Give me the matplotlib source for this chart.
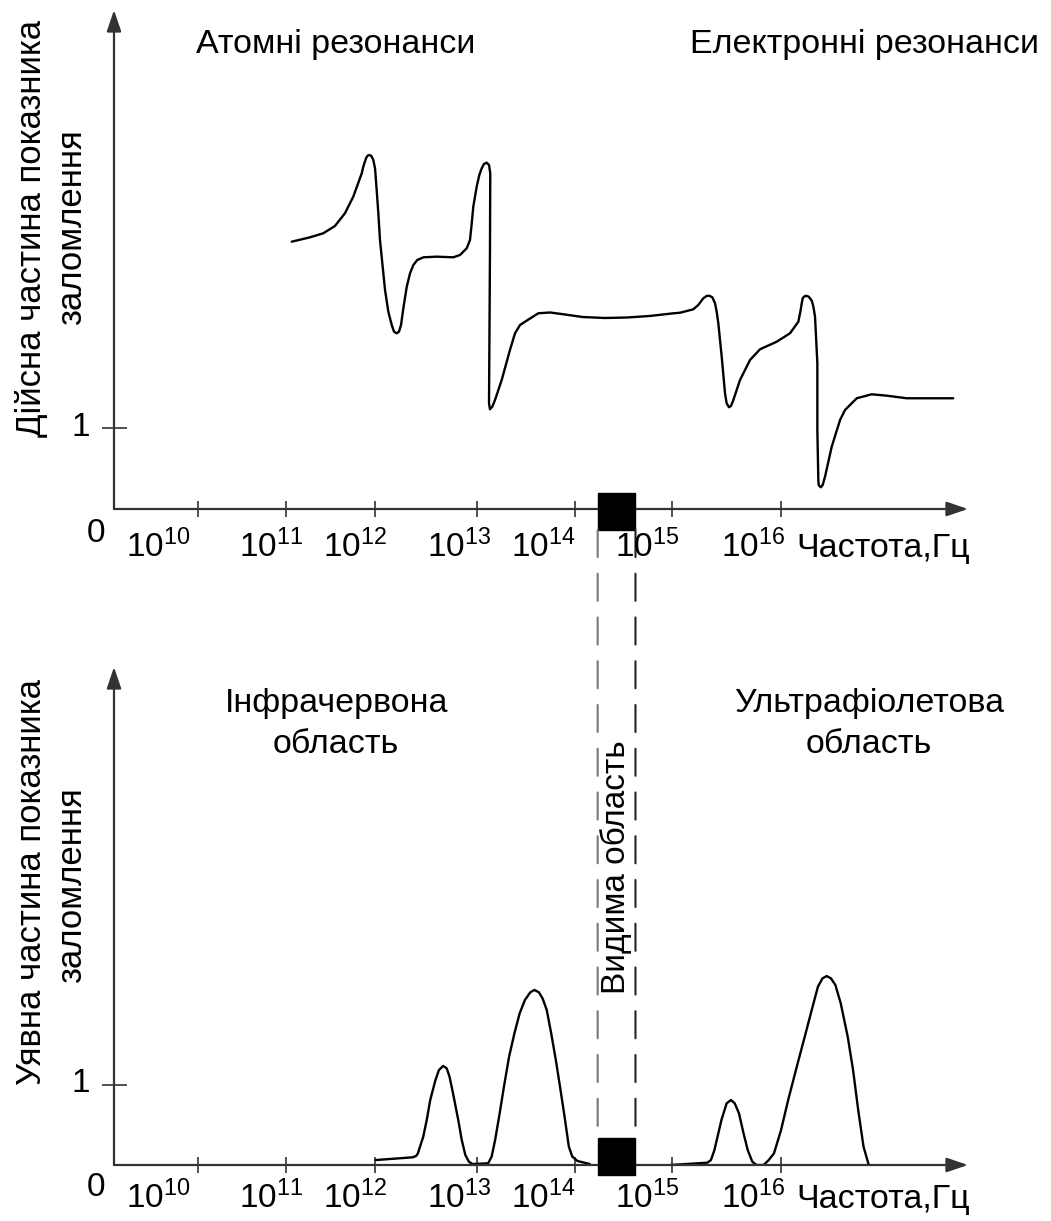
import matplotlib
matplotlib.use("Agg")
import matplotlib.pyplot as plt
from matplotlib.patches import Rectangle, ConnectionPatch

plt.rcParams['font.family'] = ['Liberation Sans', 'DejaVu Sans']
plt.rcParams['mathtext.fontset'] = 'custom'
plt.rcParams['mathtext.rm'] = 'Liberation Sans'
plt.rcParams['mathtext.it'] = 'Liberation Sans:italic'

# x in "decade" units as drawn on the schematic (10 -> 10^10 Hz)
tick_pos = [10.0, 10.91, 11.82, 12.88, 13.89, 14.89, 16.01]
tick_labels = [r'$\mathregular{10^{10}}$', r'$\mathregular{10^{11}}$', r'$\mathregular{10^{12}}$',
               r'$\mathregular{10^{13}}$', r'$\mathregular{10^{14}}$', r'$\mathregular{10^{15}}$',
               r'$\mathregular{10^{16}}$']
label_x = [9.59, 10.75, 11.62, 12.69, 13.56, 14.63, 15.72]
visible_band = (14.12, 14.51)

# real part of refractive index
re_x = [10.966, 11.155, 11.292, 11.412, 11.515, 11.601, 11.688, 11.704, 11.732, 11.749,
        11.766, 11.787, 11.807, 11.825, 11.842, 11.859, 11.876, 11.928, 11.962, 11.997,
        12.021, 12.048, 12.072, 12.093, 12.117, 12.152, 12.186, 12.220, 12.261, 12.323,
        12.461, 12.632, 12.701, 12.770, 12.804, 12.822, 12.838, 12.873, 12.900, 12.925,
        12.948, 12.976, 13.000, 13.013, 13.010, 13.005, 13.000, 13.010, 13.034, 13.062,
        13.131, 13.216, 13.268, 13.320, 13.371, 13.508, 13.629, 13.784, 13.964, 14.196,
        14.423, 14.660, 14.887, 14.969, 15.106, 15.158, 15.209, 15.244, 15.271, 15.302,
        15.330, 15.347, 15.364, 15.399, 15.433, 15.450, 15.474, 15.495, 15.519, 15.588,
        15.691, 15.794, 15.966, 16.103, 16.189, 16.213, 16.224, 16.234, 16.247, 16.268,
        16.296, 16.327, 16.344, 16.361, 16.385, 16.385, 16.395, 16.399, 16.420, 16.440,
        16.464, 16.533, 16.619, 16.670, 16.791, 16.945, 17.100, 17.306, 17.786]
re_y = [3.300, 3.354, 3.404, 3.494, 3.651, 3.856, 4.144, 4.226, 4.330, 4.362,
        4.370, 4.358, 4.309, 4.206, 3.938, 3.651, 3.321, 2.704, 2.436, 2.272,
        2.189, 2.169, 2.189, 2.272, 2.478, 2.744, 2.910, 3.012, 3.074, 3.107,
        3.115, 3.107, 3.136, 3.218, 3.321, 3.527, 3.732, 3.979, 4.123, 4.206,
        4.259, 4.275, 4.247, 4.144, 3.198, 2.210, 1.305, 1.231, 1.263, 1.346,
        1.593, 1.963, 2.169, 2.272, 2.312, 2.416, 2.426, 2.401, 2.370, 2.358,
        2.364, 2.383, 2.414, 2.423, 2.465, 2.519, 2.601, 2.630, 2.633, 2.614,
        2.540, 2.436, 2.293, 1.880, 1.428, 1.305, 1.256, 1.272, 1.346, 1.593,
        1.840, 1.972, 2.065, 2.169, 2.312, 2.457, 2.540, 2.601, 2.621, 2.633,
        2.621, 2.572, 2.498, 2.374, 1.799, 0.975, 0.358, 0.296, 0.268, 0.296,
        0.399, 0.769, 1.099, 1.222, 1.367, 1.416, 1.399, 1.367, 1.367]

# imaginary part: infrared band
ir_x = [11.833, 12.212, 12.248, 12.267, 12.322, 12.358, 12.394, 12.448, 12.484, 12.528,
        12.564, 12.593, 12.629, 12.683, 12.719, 12.756, 12.792, 12.828, 12.991, 13.027,
        13.063, 13.110, 13.154, 13.207, 13.262, 13.316, 13.370, 13.425, 13.468, 13.515,
        13.552, 13.595, 13.641, 13.689, 13.732, 13.779, 13.823, 13.859, 13.912, 14.039]
ir_y = [0.062, 0.096, 0.112, 0.146, 0.354, 0.562, 0.812, 1.062, 1.188, 1.238,
        1.208, 1.104, 0.896, 0.562, 0.312, 0.125, 0.042, 0.012, 0.021, 0.104,
        0.312, 0.646, 0.979, 1.354, 1.646, 1.896, 2.062, 2.158, 2.188, 2.158,
        2.083, 1.938, 1.646, 1.312, 0.979, 0.604, 0.229, 0.104, 0.050, 0.012]
# imaginary part: ultraviolet band
uv_x = [14.871, 15.251, 15.288, 15.324, 15.360, 15.396, 15.450, 15.494, 15.533, 15.577,
        15.624, 15.667, 15.714, 15.758, 15.830, 15.884, 15.938, 16.011, 16.084, 16.173,
        16.264, 16.336, 16.391, 16.438, 16.481, 16.525, 16.571, 16.626, 16.698, 16.753,
        16.806, 16.861, 16.915]
uv_y = [0.0, 0.029, 0.062, 0.188, 0.375, 0.562, 0.771, 0.812, 0.771, 0.646,
        0.396, 0.188, 0.042, 0.0, 0.0, 0.062, 0.146, 0.438, 0.812, 1.229,
        1.646, 1.979, 2.229, 2.333, 2.362, 2.333, 2.250, 2.021, 1.604, 1.188,
        0.688, 0.229, 0.0]

W, H = 1051, 1221
fig = plt.figure(figsize=(W / 100, H / 100), dpi=100)


def ftext(x, y, s, **kw):
    fig.text(x / W, 1 - y / H, s, **kw)


x_lim = (9.134, 17.938)
ax1 = fig.add_axes([114 / W, 1 - 509 / H, (968 - 114) / W, (509 - 10) / H])
ax2 = fig.add_axes([114 / W, 1 - 1165 / H, (968 - 114) / W, (1165 - 667) / H])
ax1.set_ylim(0, 6.16)
ax2.set_ylim(0, 6.225)

for ax in (ax1, ax2):
    ax.set_xlim(*x_lim)
    ax.patch.set_visible(False)
    for s in ax.spines.values():
        s.set_visible(False)
    arr = dict(arrowstyle='-|>,head_length=0.65,head_width=0.22', color='#333333',
               lw=1.6, mutation_scale=20, shrinkA=0, shrinkB=0)
    ax.annotate('', xy=(1, 0), xytext=(0, 0), xycoords='axes fraction', arrowprops=arr)
    ax.annotate('', xy=(0, 1), xytext=(0, 0), xycoords='axes fraction', arrowprops=arr)
    ax.set_xticks(tick_pos)
    ax.set_yticks([1])
    ax.tick_params(axis='x', direction='inout', length=12, width=1.2, color='#333333',
                   labelbottom=False)
    ax.tick_params(axis='y', direction='inout', length=18, width=1.2, color='#333333',
                   labelleft=False)

curve = dict(color='black', lw=1.7, solid_joinstyle='round', solid_capstyle='round')
ax1.plot(re_x, re_y, **curve)
ax2.plot(ir_x, ir_y, **curve)
ax2.plot(uv_x, uv_y, **curve)

# visible band boxes and dashed guides
lo, hi = visible_band
ax1.add_patch(Rectangle((lo, -0.259), hi - lo, 0.457, color='black', clip_on=False, zorder=5))
ax2.add_patch(Rectangle((lo, -0.125), hi - lo, 0.4625, color='black', clip_on=False, zorder=5))
for xv, c in ((lo, '#777777'), (hi, '#222222')):
    cp = ConnectionPatch(xyA=(xv, -0.259), coordsA=ax1.transData,
                         xyB=(xv, 0.3375), coordsB=ax2.transData,
                         color=c, lw=1.5, linestyle=(0, (13, 8)))
    fig.add_artist(cp)

# tick labels
for ax, base in ((ax1, 557), (ax2, 1208)):
    for lx, lab in zip(label_x, tick_labels):
        px = 114 + (lx - x_lim[0]) / (x_lim[1] - x_lim[0]) * (968 - 114)
        ftext(px, base, lab, ha='center', va='baseline', fontsize=24)
    ftext(796, base, 'Частота,Гц', ha='left', va='baseline', fontsize=24.5)

ftext(96, 534, '0', ha='center', va='center', fontsize=24)
ftext(96, 1187, '0', ha='center', va='center', fontsize=24)
ftext(81, 427, '1', ha='center', va='center', fontsize=24)
ftext(81, 1083, '1', ha='center', va='center', fontsize=24)

# panel annotations
ftext(336, 53, 'Атомні резонанси', ha='center', va='baseline', fontsize=24.5)
ftext(865, 53, 'Електронні резонанси', ha='center', va='baseline', fontsize=24.5)
ftext(337, 712, 'Інфрачервона', ha='center', va='baseline', fontsize=24.5)
ftext(336, 753, 'область', ha='center', va='baseline', fontsize=24.5)
ftext(869, 712, 'Ультрафіолетова', ha='center', va='baseline', fontsize=24.5)
ftext(869, 753, 'область', ha='center', va='baseline', fontsize=24.5)
ftext(616, 867, 'Видима область', ha='center', va='center', rotation=90, fontsize=24)

# y-axis titles
ylab = dict(rotation=90, rotation_mode='anchor', ha='left', va='baseline', fontsize=25)
ftext(41, 437, 'Дійсна частина показника', **ylab)
ftext(81, 325, 'заломлення', **ylab)
ftext(41, 1085, 'Уявна частина показника', **ylab)
ftext(81, 983, 'заломлення', **ylab)

fig.savefig('out.png', dpi=100)
